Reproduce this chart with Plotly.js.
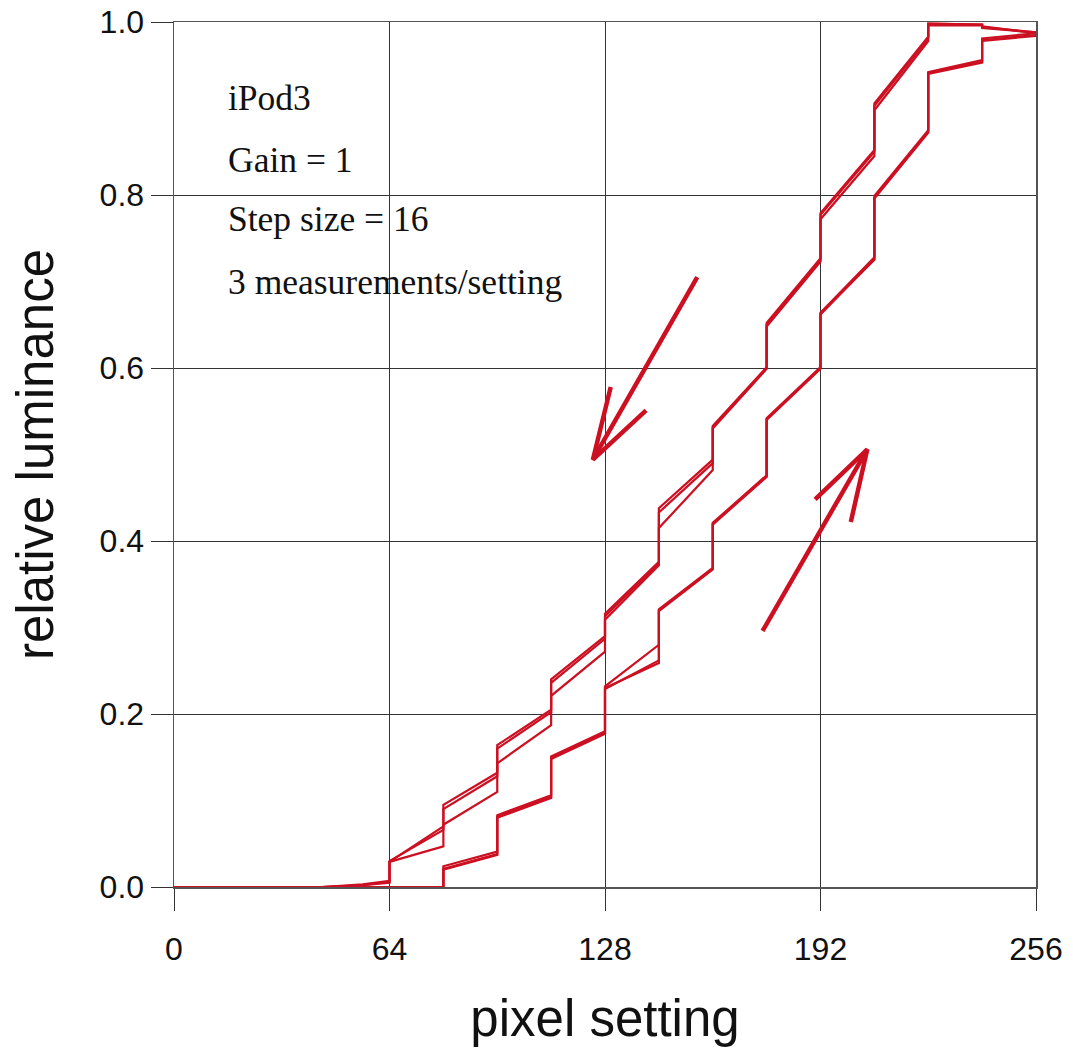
<!DOCTYPE html>
<html>
<head>
<meta charset="utf-8">
<script src="https://cdn.plot.ly/plotly-3.0.1.min.js"></script>
<style>html,body{margin:0;padding:0;background:#fff;}#chart{width:1073px;height:1055px;}</style>
</head>
<body>
<div id="chart"></div>
<script>
// ---- data ----
// up-sweep (increasing pixel setting), 3 measurements
var upX  = [0, 80, 80, 96, 96, 112, 112, 128, 128, 144, 144, 160, 160, 176, 176, 192, 192, 208, 208, 224, 224, 240, 240, 256, 256];
var upY1 = [0, 0, 0.020, 0.037, 0.081, 0.104, 0.149, 0.178, 0.230, 0.259, 0.320, 0.368, 0.420, 0.475, 0.541, 0.600, 0.663, 0.725, 0.797, 0.873, 0.941, 0.954, 0.979, 0.985, 0.988];
var upY2 = [0, 0, 0.024, 0.041, 0.083, 0.106, 0.151, 0.180, 0.232, 0.280, 0.321, 0.369, 0.421, 0.476, 0.542, 0.601, 0.664, 0.728, 0.799, 0.875, 0.942, 0.956, 0.981, 0.987, 0.989];
var upY3 = [0, 0, 0.021, 0.038, 0.080, 0.103, 0.148, 0.177, 0.229, 0.262, 0.319, 0.367, 0.419, 0.474, 0.540, 0.599, 0.662, 0.726, 0.796, 0.872, 0.940, 0.953, 0.978, 0.984, 0.988];

// down-sweep (decreasing pixel setting), 3 measurements
var dnX  = [256, 240, 240, 224, 224, 208, 208, 192, 192, 176, 176, 160, 160, 144, 144, 128, 128, 112, 112, 96, 96, 80, 80, 64, 64, 56, 44, 0];
var dnY1 = [0.988, 0.994, 0.997, 0.998, 0.983, 0.906, 0.852, 0.779, 0.725, 0.650, 0.600, 0.532, 0.494, 0.438, 0.376, 0.316, 0.290, 0.240, 0.205, 0.164, 0.132, 0.095, 0.070, 0.029, 0.006, 0.002, 0, 0];
var dnY2 = [0.988, 0.993, 0.996, 0.996, 0.978, 0.898, 0.845, 0.772, 0.723, 0.648, 0.599, 0.530, 0.482, 0.415, 0.372, 0.309, 0.272, 0.221, 0.187, 0.143, 0.110, 0.072, 0.047, 0.029, 0.005, 0.002, 0, 0];
var dnY3 = [0.987, 0.995, 0.997, 0.998, 0.981, 0.903, 0.850, 0.777, 0.727, 0.652, 0.601, 0.533, 0.490, 0.433, 0.374, 0.313, 0.287, 0.236, 0.202, 0.160, 0.128, 0.090, 0.066, 0.030, 0.007, 0.003, 0, 0];

// direction arrows (shaft, then head)
var arrowDownX = [155.4, 124.4, null, 129.7, 124.4, 140.2];
var arrowDownY = [0.705, 0.494, null, 0.578, 0.494, 0.551];
var arrowUpX   = [174.8, 205.9, null, 190.4, 205.9, 201.0];
var arrowUpY   = [0.296, 0.506, null, 0.448, 0.506, 0.422];

// ticks and labels
var xTicks = [0, 64, 128, 192, 256];
var yTicks = [0.0, 0.2, 0.4, 0.6, 0.8, 1.0];
var yTickText = ['0.0', '0.2', '0.4', '0.6', '0.8', '1.0'];
var noteLines = ['iPod3', 'Gain = 1', 'Step size = 16', '3 measurements/setting'];
var noteY = [0.9127, 0.8410, 0.7717, 0.7000];
var noteX = 15.5;
var xTitle = 'pixel setting';
var yTitle = 'relative luminance';

// ---- drawing ----
var red = '#cc1022';
function curve(x, y) {
  return {x: x, y: y, type: 'scatter', mode: 'lines', hoverinfo: 'skip',
          line: {color: red, width: 2.2}, showlegend: false};
}
function arrow(x, y) {
  return {x: x, y: y, type: 'scatter', mode: 'lines', hoverinfo: 'skip', connectgaps: false,
          line: {color: red, width: 4.5}, showlegend: false};
}
var traces = [
  curve(upX, upY1), curve(upX, upY2), curve(upX, upY3),
  curve(dnX, dnY1), curve(dnX, dnY2), curve(dnX, dnY3),
  arrow(arrowDownX, arrowDownY), arrow(arrowUpX, arrowUpY)
];

var annotations = noteLines.map(function (t, i) {
  return {x: noteX, y: noteY[i], xref: 'x', yref: 'y', text: t, showarrow: false,
          xanchor: 'left', yanchor: 'middle',
          font: {family: 'Liberation Serif, Times New Roman, serif', size: 35.5, color: '#111'}};
});

var sans = 'Liberation Sans, Arial, Helvetica, sans-serif';

var layout = {
  width: 1073, height: 1055,
  margin: {l: 174, r: 37, t: 22, b: 168},
  paper_bgcolor: '#fff', plot_bgcolor: '#fff',
  showlegend: false,
  xaxis: {
    range: [0, 256], tickvals: xTicks, ticktext: xTicks.map(String),
    showgrid: true, gridcolor: '#333', gridwidth: 1,
    zeroline: false, showline: true, mirror: true, linecolor: '#555', linewidth: 1.5,
    ticks: 'outside', ticklen: 22, tickcolor: '#333', tickwidth: 1,
    ticklabelstandoff: 11,
    tickfont: {family: sans, size: 32, color: '#111'},
    title: {text: xTitle, standoff: 34, font: {family: sans, size: 51, color: '#111'}}
  },
  yaxis: {
    range: [0, 1], tickvals: yTicks, ticktext: yTickText,
    showgrid: true, gridcolor: '#333', gridwidth: 1,
    zeroline: false, showline: true, mirror: true, linecolor: '#555', linewidth: 1.5,
    ticks: 'outside', ticklen: 22, tickcolor: '#333', tickwidth: 1,
    tickfont: {family: sans, size: 32, color: '#111'},
    title: {text: yTitle, standoff: 30, font: {family: sans, size: 51, color: '#111'}}
  },
  annotations: annotations
};

Plotly.newPlot('chart', traces, layout, {staticPlot: true, displayModeBar: false});
</script>
</body>
</html>
